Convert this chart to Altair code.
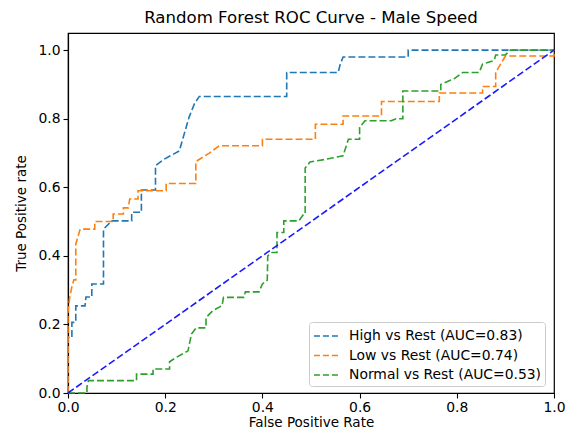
import altair as alt
import pandas as pd

high_fpr = [0, 0, 0.008, 0.008, 0.016, 0.016, 0.035, 0.037, 0.049, 0.049, 0.073, 0.073, 0.09, 0.131, 0.131,
            0.151, 0.151, 0.18, 0.18, 0.198, 0.229, 0.239, 0.249, 0.26, 0.27, 0.45, 0.45, 0.556, 0.56, 0.566,
            0.70, 0.70, 1.0]
high_tpr = [0, 0.162, 0.162, 0.206, 0.206, 0.254, 0.254, 0.28, 0.28, 0.318, 0.318, 0.478, 0.502, 0.502, 0.527,
            0.527, 0.592, 0.592, 0.663, 0.682, 0.706, 0.755, 0.804, 0.843, 0.865, 0.865, 0.935, 0.935, 0.958, 0.98,
            0.98, 1.0, 1.0]

low_fpr = [0, 0, 0.003, 0.008, 0.012, 0.016, 0.016, 0.025, 0.055, 0.055, 0.093, 0.093, 0.114, 0.114, 0.124,
           0.127, 0.144, 0.144, 0.202, 0.202, 0.263, 0.263, 0.29, 0.311, 0.40, 0.40, 0.509, 0.509, 0.566, 0.566,
           0.645, 0.645, 0.764, 0.764, 0.853, 0.853, 0.88, 0.88, 0.89, 0.90, 1.0, 1.0]
low_tpr = [0, 0.236, 0.274, 0.31, 0.33, 0.33, 0.434, 0.478, 0.478, 0.50, 0.50, 0.522, 0.522, 0.54, 0.54,
           0.566, 0.566, 0.59, 0.59, 0.611, 0.611, 0.675, 0.699, 0.721, 0.721, 0.74, 0.74, 0.784, 0.784, 0.808,
           0.808, 0.85, 0.85, 0.875, 0.875, 0.894, 0.894, 0.935, 0.959, 0.983, 0.983, 1.0]

norm_fpr = [0, 0.039, 0.039, 0.042, 0.141, 0.141, 0.175, 0.175, 0.209, 0.209, 0.223, 0.247, 0.254, 0.264,
            0.284, 0.284, 0.298, 0.317, 0.32, 0.362, 0.365, 0.393, 0.40, 0.41, 0.411, 0.42, 0.43, 0.43, 0.444,
            0.444, 0.475, 0.485, 0.488, 0.488, 0.498, 0.532, 0.566, 0.577, 0.60, 0.60, 0.611, 0.665, 0.675,
            0.689, 0.689, 0.767, 0.767, 0.795, 0.812, 0.846, 0.853, 0.877, 0.88, 0.90, 0.91, 1.0]
norm_tpr = [0, 0, 0.017, 0.036, 0.036, 0.055, 0.055, 0.07, 0.07, 0.091, 0.104, 0.123, 0.172, 0.19,
            0.19, 0.22, 0.24, 0.255, 0.279, 0.279, 0.295, 0.295, 0.318, 0.329, 0.40, 0.41, 0.41, 0.468, 0.468,
            0.502, 0.502, 0.522, 0.522, 0.656, 0.674, 0.682, 0.692, 0.74, 0.74, 0.775, 0.794, 0.794, 0.80,
            0.80, 0.881, 0.881, 0.90, 0.917, 0.935, 0.935, 0.959, 0.97, 0.986, 0.986, 1.0, 1.0]

labels = ["High vs Rest (AUC=0.83)", "Low vs Rest (AUC=0.74)", "Normal vs Rest (AUC=0.53)"]
colors = ["#1f77b4", "#ff7f0e", "#2ca02c"]
x_ticks = [0, 0.2, 0.4, 0.6, 0.8, 1.0]
y_ticks = [0, 0.2, 0.4, 0.6, 0.8, 1.0]
diag_x = [0, 1]
diag_y = [0, 1]

rows = []
for lab, fx, ty in zip(labels, [high_fpr, low_fpr, norm_fpr], [high_tpr, low_tpr, norm_tpr]):
    for i, (a, b) in enumerate(zip(fx, ty)):
        rows.append({"series": lab, "i": i, "fpr": a, "tpr": b})
df = pd.DataFrame(rows)
diag = pd.DataFrame({"fpr": diag_x, "tpr": diag_y})

FONT = "DejaVu Sans"

xscale = alt.Scale(domain=[0, 1], nice=False, zero=False)
yscale = alt.Scale(domain=[0, 1.05], nice=False, zero=False)

xaxis = alt.Axis(values=x_ticks, format=".1f", grid=False, title="False Positive Rate",
                 tickSize=5, labelPadding=2, titlePadding=2, labelFlush=False, labelOverlap=False)
yaxis = alt.Axis(values=y_ticks, format=".1f", grid=False, title="True Positive rate",
                 tickSize=5, labelPadding=3, titlePadding=9, labelFlush=False, labelOverlap=False)

curves = alt.Chart(df).mark_line(strokeWidth=1.6, strokeDash=[7, 3]).encode(
    x=alt.X("fpr:Q", scale=xscale, axis=xaxis),
    y=alt.Y("tpr:Q", scale=yscale, axis=yaxis),
    color=alt.Color("series:N", scale=alt.Scale(domain=labels, range=colors),
                    legend=alt.Legend(title=None, orient="none", legendX=241, legendY=289,
                                      symbolType="M-1.45,0H1.45", symbolSize=324, symbolStrokeWidth=1.6,
                                      symbolDash=[6, 3], symbolOffset=4, labelFontSize=13.9, labelFont=FONT,
                                      labelLimit=400, rowPadding=2.5, padding=4,
                                      fillColor="white", strokeColor="#cccccc", cornerRadius=3,
                                      labelOffset=12)),
    order="i:Q",
)

diag_line = alt.Chart(diag).mark_line(strokeWidth=1.6, strokeDash=[7, 3], color="#1a1aff").encode(
    x=alt.X("fpr:Q", scale=xscale),
    y=alt.Y("tpr:Q", scale=yscale),
)

chart = alt.layer(curves, diag_line).properties(
    width=486, height=360,
    title=alt.Title("Random Forest ROC Curve - Male Speed", fontSize=16.6, fontWeight="normal",
                    font=FONT, offset=6, color="black"),
    autosize=alt.AutoSizeParams(type="none"),
    padding={"left": 60, "top": 25, "right": 12, "bottom": 38},
).configure_view(stroke="black", strokeWidth=1.2).configure_axis(
    domainColor="black", tickColor="black", labelColor="black", titleColor="black",
    labelFont=FONT, titleFont=FONT, labelFontSize=13.9, titleFontSize=13.5, titleFontWeight="normal",
    domainWidth=1.2, tickWidth=1.1,
)

chart.save("out.html", embed_options={"renderer": "svg", "actions": False})
